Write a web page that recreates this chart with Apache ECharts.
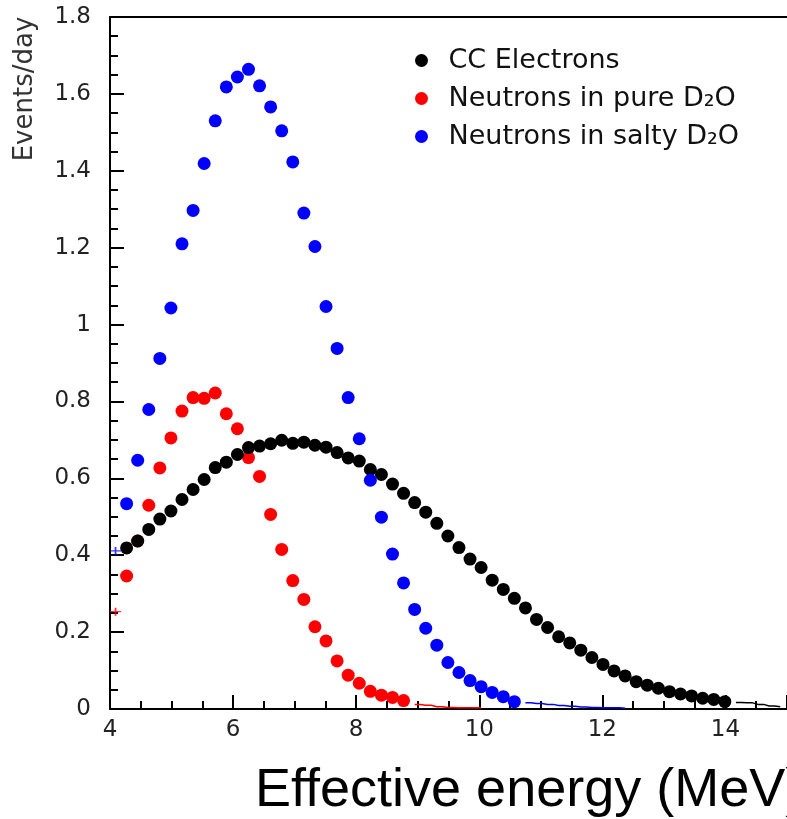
<!DOCTYPE html>
<html lang="en">

<head>
    <meta charset="UTF-8">
    <title>Effective energy spectra</title>
    <script src="https://cdn.jsdelivr.net/npm/echarts/dist/echarts.min.js"></script>
    <style>
        body { margin: 0; background: #fff; }
    </style>
</head>

<body>
    <div id="main" style="width: 787px;height:819px;"></div>
</body>
<script>
    // bin centres (MeV)
    var energy = [4.09, 4.27, 4.45, 4.63, 4.81, 4.99, 5.17, 5.35, 5.53, 5.71,
        5.89, 6.07, 6.25, 6.43, 6.61, 6.79, 6.97, 7.15, 7.33, 7.51,
        7.69, 7.87, 8.05, 8.23, 8.41, 8.59, 8.77, 8.95, 9.13, 9.31,
        9.49, 9.67, 9.85, 10.03, 10.21, 10.39, 10.57, 10.75, 10.93, 11.11,
        11.29, 11.47, 11.65, 11.83, 12.01, 12.19, 12.37, 12.55, 12.73, 12.91,
        13.09, 13.27, 13.45, 13.63, 13.81, 13.99, 14.17, 14.35, 14.53, 14.71,
        14.89];

    // events/day, starting at energy[1]
    var ccElectrons = [0.419, 0.437, 0.467, 0.494, 0.515, 0.545, 0.571, 0.597, 0.628, 0.642,
        0.662, 0.680, 0.684, 0.690, 0.699, 0.691, 0.694, 0.686, 0.681, 0.667,
        0.653, 0.645, 0.623, 0.610, 0.585, 0.561, 0.537, 0.512, 0.483, 0.450,
        0.420, 0.390, 0.368, 0.335, 0.311, 0.288, 0.263, 0.233, 0.212, 0.188,
        0.172, 0.153, 0.134, 0.116, 0.099, 0.086, 0.071, 0.062, 0.054, 0.045,
        0.039, 0.034, 0.028, 0.025, 0.019];
    var pureD2O = [0.346, 0.437, 0.530, 0.627, 0.705, 0.775, 0.810, 0.808, 0.822, 0.768,
        0.729, 0.654, 0.605, 0.506, 0.415, 0.334, 0.285, 0.214, 0.177, 0.125,
        0.088, 0.067, 0.046, 0.036, 0.030, 0.022];
    var saltyD2O = [0.534, 0.647, 0.779, 0.912, 1.043, 1.210, 1.297, 1.419, 1.530, 1.618,
        1.644, 1.664, 1.621, 1.566, 1.504, 1.423, 1.290, 1.203, 1.047, 0.938,
        0.810, 0.703, 0.595, 0.499, 0.403, 0.328, 0.259, 0.210, 0.166, 0.121,
        0.095, 0.074, 0.058, 0.043, 0.032, 0.019];

    // low tails drawn as histogram lines, they continue after the last point
    var ccTail = [0.017, 0.016, 0.012, 0.008, 0.006];
    var pureTail = [0.012, 0.010, 0.006, 0.004, 0.003, 0.003, 0.003];
    var saltyTail = [0.016, 0.014, 0.012, 0.009, 0.007, 0.005, 0.004, 0.003, 0.003, 0.002];

    // first bin, only the error cross is visible at the frame edge
    var edgePure = 0.253;
    var edgeSalty = 0.411;

    var xTicks = [4, 6, 8, 10, 12, 14];
    var yTicks = [0, 0.2, 0.4, 0.6, 0.8, 1, 1.2, 1.4, 1.6, 1.8];

    function pts(values, start) {
        return values.map(function(v, i) {
            return [energy[start + i], v];
        });
    }

    var myChart = echarts.init(document.getElementById('main'));

    var tickFont = {
        fontFamily: 'DejaVu Sans',
        fontSize: 23,
        color: '#222'
    };
    var black2 = { color: '#000', width: 2 };
    var cross = 'path://M0,4h10v1.6h-10z M4.2,0h1.6v10h-1.6z';

    var option = {
        animation: false,
        backgroundColor: '#fff',
        grid: {
            left: 110,
            top: 17,
            width: 680,
            height: 692
        },
        legend: {
            orient: 'vertical',
            left: 410,
            top: 42,
            itemWidth: 44,
            itemHeight: 13,
            itemGap: 11,
            icon: 'circle',
            data: ['CC Electrons', 'Neutrons in pure D₂O', 'Neutrons in salty D₂O'],
            textStyle: {
                fontFamily: 'DejaVu Sans',
                fontSize: 27,
                color: '#111'
            }
        },
        xAxis: [{
            type: 'value',
            min: xTicks[0],
            max: 15,
            interval: 2,
            axisLine: { lineStyle: black2 },
            axisTick: { inside: true, length: 14, lineStyle: black2 },
            minorTick: { show: true, splitNumber: 4, length: 8, lineStyle: black2 },
            splitLine: { show: false },
            axisLabel: Object.assign({ margin: 10, showMaxLabel: false }, tickFont)
        }, {
            // top edge of the frame
            type: 'value',
            position: 'top',
            min: xTicks[0],
            max: 15,
            axisLine: { show: true, lineStyle: black2 },
            axisTick: { show: false },
            axisLabel: { show: false },
            splitLine: { show: false }
        }],
        yAxis: {
            type: 'value',
            min: yTicks[0],
            max: yTicks[yTicks.length - 1],
            interval: 0.2,
            axisLine: { show: true, lineStyle: black2 },
            axisTick: { show: true, inside: true, length: 14, lineStyle: black2 },
            minorTick: { show: true, splitNumber: 4, length: 8, lineStyle: black2 },
            splitLine: { show: false },
            axisLabel: Object.assign({ margin: 19 }, tickFont)
        },
        graphic: [{
            type: 'text',
            x: 255,
            y: 791,
            style: {
                text: 'Effective energy (MeV)',
                font: '54px "Liberation Sans", Arial, sans-serif',
                fill: '#000',
                verticalAlign: 'middle'
            }
        }, {
            type: 'text',
            x: 25,
            y: 89,
            rotation: Math.PI / 2,
            style: {
                text: 'Events/day',
                font: '26px "DejaVu Sans", sans-serif',
                fill: '#333',
                align: 'center',
                verticalAlign: 'middle'
            }
        }],
        series: [{
            name: 'pure tail',
            type: 'line',
            step: 'middle',
            symbol: 'none',
            lineStyle: { color: '#ff0000', width: 1.5 },
            data: pts(pureTail, 27)
        }, {
            name: 'salty tail',
            type: 'line',
            step: 'middle',
            symbol: 'none',
            lineStyle: { color: '#0000ff', width: 1.5 },
            data: pts(saltyTail, 37)
        }, {
            name: 'cc tail',
            type: 'line',
            step: 'middle',
            symbol: 'none',
            lineStyle: { color: '#000', width: 1.5 },
            data: pts(ccTail, 56)
        }, {
            name: 'edge',
            type: 'scatter',
            symbol: cross,
            symbolSize: [11, 8],
            data: [{
                value: [energy[0], edgePure],
                itemStyle: { color: '#ff0000' }
            }, {
                value: [energy[0], edgeSalty],
                itemStyle: { color: '#0000ff' }
            }]
        }, {
            name: 'Neutrons in pure D₂O',
            type: 'scatter',
            symbolSize: 13,
            itemStyle: { color: '#ff0000', opacity: 1 },
            data: pts(pureD2O, 1)
        }, {
            name: 'CC Electrons',
            type: 'scatter',
            symbolSize: 13,
            itemStyle: { color: '#000000', opacity: 1 },
            data: pts(ccElectrons, 1)
        }, {
            name: 'Neutrons in salty D₂O',
            type: 'scatter',
            symbolSize: 13,
            itemStyle: { color: '#0000ff', opacity: 1 },
            data: pts(saltyD2O, 1)
        }]
    };

    myChart.setOption(option);
</script>

</html>
